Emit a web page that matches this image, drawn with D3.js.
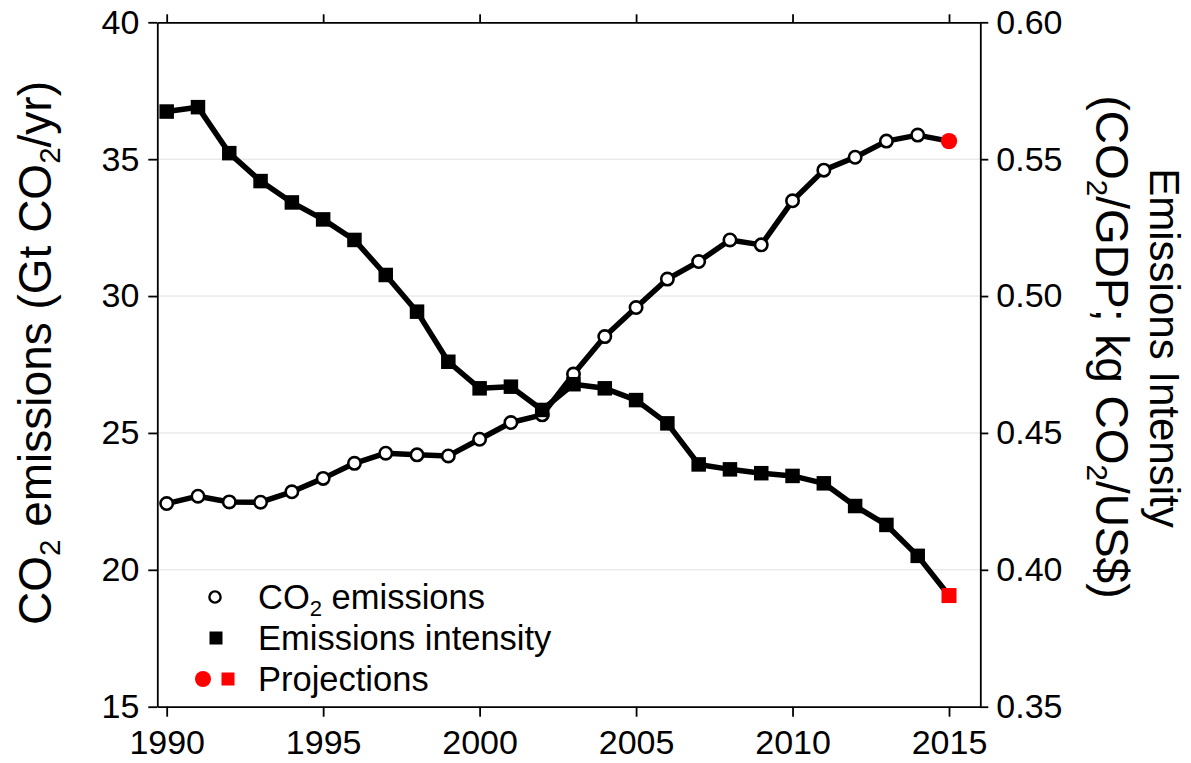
<!DOCTYPE html>
<html><head><meta charset="utf-8">
<script src="https://cdn.jsdelivr.net/npm/d3@7/dist/d3.min.js"></script>
<style>body{margin:0;background:#fff}</style>
</head><body>
<svg id="c" width="1191" height="763"></svg>
<script>
// ---- data ----
const years = [1990,1991,1992,1993,1994,1995,1996,1997,1998,1999,2000,2001,2002,2003,2004,2005,2006,2007,2008,2009,2010,2011,2012,2013,2014];
const co2Emissions = [22.42,22.69,22.48,22.47,22.85,23.34,23.89,24.26,24.20,24.16,24.77,25.38,25.66,27.15,28.52,29.58,30.62,31.26,32.05,31.87,33.48,34.60,35.07,35.66,35.88];
const emissionsIntensity = [0.5674,0.5690,0.5522,0.5420,0.5342,0.5280,0.5205,0.5077,0.4943,0.4760,0.4663,0.4669,0.4584,0.4678,0.4663,0.4620,0.4535,0.4385,0.4367,0.4353,0.4343,0.4316,0.4233,0.4164,0.4051];
const projectionYear = 2015;
const co2Projection = 35.66;
const intensityProjection = 0.3906;
const xTicks = [1990,1995,2000,2005,2010,2015];
const leftTicks = [15,20,25,30,35,40];
const rightTicks = [0.35,0.40,0.45,0.50,0.55,0.60];
const gridValues = [20,25,30,35];
const legendLabels = ["CO₂ emissions","Emissions intensity","Projections"];

// ---- layout ----
const FONT = "'Liberation Sans', Arial, Helvetica, sans-serif";
const L = 157.3, R = 980.3, T = 22.3, B = 706.7;
const svg = d3.select("#c").style("font-family", FONT);

const x = d3.scaleLinear().domain([1989.7, 2016]).range([L, R]);
const yL = d3.scaleLinear().domain([15, 40]).range([B, T]);
const yR = d3.scaleLinear().domain([0.35, 0.60]).range([B, T]);

// grid
svg.append("g").selectAll("line").data(gridValues).join("line")
  .attr("x1", L).attr("x2", R)
  .attr("y1", d => yL(d)).attr("y2", d => yL(d))
  .attr("stroke", "#e0e0e0").attr("stroke-width", 1);

// axes
function styleAxis(g, size) {
  g.select(".domain").attr("stroke", "#000").attr("stroke-width", 1.8);
  g.selectAll(".tick line").attr("stroke", "#000").attr("stroke-width", 1.8);
  g.selectAll(".tick text").attr("fill", "#000").style("font-size", size + "px").style("font-family", FONT);
}
const TICK_FS = 34;
svg.append("g").attr("transform", `translate(0,${B})`)
  .call(d3.axisBottom(x).tickValues(xTicks).tickFormat(d3.format("d")).tickSize(10).tickSizeOuter(0).tickPadding(13))
  .call(g => styleAxis(g, TICK_FS));
svg.append("g").attr("transform", `translate(0,${T})`)
  .call(d3.axisTop(x).tickValues(xTicks).tickFormat("").tickSize(8).tickSizeOuter(0))
  .call(g => styleAxis(g, TICK_FS));
svg.append("g").attr("transform", `translate(${L},0)`)
  .call(d3.axisLeft(yL).tickValues(leftTicks).tickFormat(d3.format("d")).tickSize(9).tickSizeOuter(0).tickPadding(9))
  .call(g => styleAxis(g, TICK_FS));
svg.append("g").attr("transform", `translate(${R},0)`)
  .call(d3.axisRight(yR).tickValues(rightTicks).tickFormat(d3.format(".2f")).tickSize(8).tickSizeOuter(0).tickPadding(8))
  .call(g => styleAxis(g, TICK_FS));

// series
const co2Pts = years.map((yr, i) => [yr, co2Emissions[i]]).concat([[projectionYear, co2Projection]]);
const intPts = years.map((yr, i) => [yr, emissionsIntensity[i]]).concat([[projectionYear, intensityProjection]]);

const lineL = d3.line().x(d => x(d[0])).y(d => yL(d[1]));
const lineR = d3.line().x(d => x(d[0])).y(d => yR(d[1]));

svg.append("path").datum(co2Pts).attr("d", lineL)
  .attr("fill", "none").attr("stroke", "#000").attr("stroke-width", 5.5).attr("stroke-linejoin", "round");
svg.append("g").selectAll("circle").data(years.map((yr, i) => [yr, co2Emissions[i]])).join("circle")
  .attr("cx", d => x(d[0])).attr("cy", d => yL(d[1])).attr("r", 6.2)
  .attr("fill", "#fff").attr("stroke", "#000").attr("stroke-width", 2.6);
svg.append("circle").attr("cx", x(projectionYear)).attr("cy", yL(co2Projection)).attr("r", 8.2).attr("fill", "#ff0000");

svg.append("path").datum(intPts).attr("d", lineR)
  .attr("fill", "none").attr("stroke", "#000").attr("stroke-width", 5.5).attr("stroke-linejoin", "round");
const sq = 14.5;
svg.append("g").selectAll("rect").data(years.map((yr, i) => [yr, emissionsIntensity[i]])).join("rect")
  .attr("x", d => x(d[0]) - sq / 2).attr("y", d => yR(d[1]) - sq / 2)
  .attr("width", sq).attr("height", sq).attr("fill", "#000");
svg.append("rect").attr("x", x(projectionYear) - 7.5).attr("y", yR(intensityProjection) - 7.5)
  .attr("width", 15).attr("height", 15).attr("fill", "#ff0000");

// legend
const lg = svg.append("g");
const rowY = [597, 638, 679];
lg.append("circle").attr("cx", 215).attr("cy", rowY[0]).attr("r", 5.6)
  .attr("fill", "#fff").attr("stroke", "#000").attr("stroke-width", 2.4);
lg.append("rect").attr("x", 216 - 6.5).attr("y", rowY[1] - 6.5).attr("width", 13).attr("height", 13).attr("fill", "#000");
lg.append("circle").attr("cx", 203).attr("cy", rowY[2]).attr("r", 8).attr("fill", "#ff0000");
lg.append("rect").attr("x", 228 - 6.5).attr("y", rowY[2] - 6.5).attr("width", 13).attr("height", 13).attr("fill", "#ff0000");

function writeLabel(textSel, label, size) {
  const out = [];
  let buf = "";
  for (const ch of label) {
    if (ch === "₂") { if (buf) out.push([buf, false]); out.push(["2", true]); buf = ""; }
    else buf += ch;
  }
  if (buf) out.push([buf, false]);
  let prevSub = false;
  out.forEach(([t, sub]) => {
    const ts = textSel.append("tspan").text(t);
    if (sub) { ts.style("font-size", (size * 0.64) + "px").attr("dy", size * 0.2); }
    else if (prevSub) { ts.attr("dy", -size * 0.2); }
    prevSub = sub;
  });
}
const LEG_FS = 34.5;
legendLabels.forEach((lab, i) => {
  const t = lg.append("text").attr("x", 258).attr("y", rowY[i] + 12)
    .style("font-size", LEG_FS + "px").attr("fill", "#000");
  writeLabel(t, lab, LEG_FS);
});

// axis titles
const lt = svg.append("text")
  .attr("transform", `translate(51,353) rotate(-90)`)
  .attr("text-anchor", "middle").style("font-size", "46px").attr("fill", "#000");
writeLabel(lt, "CO₂ emissions (Gt CO₂/yr)", 46);

const rt1 = svg.append("text")
  .attr("transform", `translate(1150,348) rotate(90)`)
  .attr("text-anchor", "middle").style("font-size", "42px").attr("fill", "#000");
writeLabel(rt1, "Emissions Intensity", 42);
const rt2 = svg.append("text")
  .attr("transform", `translate(1096,347) rotate(90)`)
  .attr("text-anchor", "middle").style("font-size", "46px").attr("fill", "#000");
writeLabel(rt2, "(CO₂/GDP; kg CO₂/US$)", 46);
</script>
</body></html>
